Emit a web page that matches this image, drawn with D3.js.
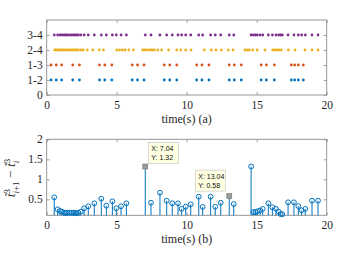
<!DOCTYPE html>
<html><head><meta charset="utf-8">
<script src="https://cdn.jsdelivr.net/npm/d3@7"></script>
<style>body{margin:0;background:#fff}svg{display:block}</style>
</head><body>
<script>
// ---------- data ----------
const linkLabels = ["0", "1-2", "1-3", "2-4", "3-4"];
const xTicks = [0, 5, 10, 15, 20];
const yTicksBottom = [0.5, 1, 1.5, 2];

const events12 = [0.31,0.68,1.07,1.86,2.34,3.77,4.15,4.65,6.11,6.49,6.95,8.40,8.79,9.29,10.71,11.09,11.59,13.04,13.40,13.90,15.32,15.69,16.26,17.47,17.71,17.97,18.33];
const events13 = [0.31,0.68,1.07,1.86,2.34,3.77,4.15,4.65,6.11,6.49,6.95,8.40,8.79,9.29,10.71,11.09,11.59,13.04,13.40,13.90,15.32,15.69,16.26,17.47,17.71,17.97,18.33];
const events24 = [0.57,0.70,0.83,0.96,1.09,1.22,1.35,1.48,1.61,1.74,1.87,2.0,2.13,2.26,2.43,2.61,2.9,3.29,3.76,4.05,5.0,5.2,5.4,5.6,5.86,6.19,6.86,7.02,7.19,7.36,7.52,7.69,7.93,8.21,8.71,9.29,9.57,9.93,10.31,11.26,11.76,12.09,12.47,12.97,13.31,14.16,14.33,14.47,14.71,15.04,15.59,16.14,16.31,16.45,16.6,16.76,17.26,17.74,18.45,18.95,19.38];
const events34 = [0.54,0.78,0.95,1.09,1.24,1.36,1.47,1.62,1.76,1.9,2.02,2.14,2.26,2.43,2.67,2.97,3.4,3.9,4.26,4.69,4.97,5.31,5.69,7.04,7.45,8.09,8.57,8.97,9.38,9.64,9.93,10.29,10.86,11.14,11.71,12.04,12.43,13.04,13.36,14.6,14.76,14.9,15.04,15.24,15.43,15.83,16.12,16.38,16.57,16.71,16.83,17.24,17.66,17.97,18.21,18.47,18.95,19.38];

const stemTimes = [0.54,0.78,0.95,1.09,1.24,1.36,1.47,1.62,1.76,1.9,2.02,2.14,2.26,2.43,2.67,2.97,3.4,3.9,4.26,4.69,4.97,5.31,5.69,7.04,7.45,8.09,8.57,8.97,9.38,9.64,9.93,10.29,10.86,11.14,11.71,12.04,12.43,13.04,13.36,14.6,14.76,14.9,15.04,15.24,15.43,15.83,16.12,16.38,16.57,16.71,16.83,17.24,17.66,17.97,18.21,18.47,18.95,19.38];
const stemValues = [0.55,0.25,0.21,0.19,0.165,0.16,0.165,0.165,0.165,0.165,0.16,0.155,0.16,0.19,0.275,0.325,0.4,0.515,0.34,0.45,0.275,0.325,0.4,1.32,0.415,0.665,0.465,0.4,0.4,0.26,0.315,0.375,0.565,0.31,0.565,0.315,0.415,0.58,0.38,1.32,0.18,0.18,0.2,0.22,0.26,0.4,0.3,0.26,0.19,0.13,0.125,0.425,0.425,0.33,0.225,0.26,0.465,0.465];

const dataTips = [{x: 7.04, y: 1.32, dx: 3, dy: -24}, {x: 13.04, y: 0.58, dx: -34, dy: -26}];

const rows = [
  {level: 1, events: events12, color: "#0072BD"},
  {level: 2, events: events13, color: "#D95319"},
  {level: 3, events: events24, color: "#EDB120"},
  {level: 4, events: events34, color: "#7E2F8E"}
];

// ---------- layout ----------
const W = 360, H = 254;
const axisColor = "#8c8c8c", textColor = "#262626";
const serif = "'Liberation Serif','DejaVu Serif',serif";
const svg = d3.select("body").append("svg").attr("width", W).attr("height", H);

const x = d3.scaleLinear().domain([0, 20]).range([46.7, 326.7]);
const yTop = d3.scaleLinear().domain([0, 5]).range([95, 20]);
const yBot = d3.scaleLinear().domain([0.1, 2]).range([215.3, 139.3]);

function frame(yScale, yTickVals, yFmt, top, bottom) {
  const g = svg.append("g");
  g.append("g").attr("transform", `translate(0,${bottom})`)
    .call(d3.axisBottom(x).tickValues(xTicks).tickSize(-3).tickPadding(6).tickFormat(d3.format("d")));
  g.append("g").attr("transform", `translate(0,${top})`)
    .call(d3.axisTop(x).tickValues(xTicks).tickSize(-3).tickFormat(""));
  g.append("g").attr("transform", `translate(${x.range()[0]},0)`)
    .call(d3.axisLeft(yScale).tickValues(yTickVals).tickSize(-3).tickPadding(4).tickFormat(yFmt));
  g.append("g").attr("transform", `translate(${x.range()[1]},0)`)
    .call(d3.axisRight(yScale).tickValues(yTickVals).tickSize(-3).tickFormat(""));
  g.selectAll(".domain").remove();
  g.selectAll(".tick line").attr("stroke", axisColor).attr("stroke-width", 0.8);
  g.selectAll(".tick text").attr("fill", textColor).style("font-family", serif).style("font-size", "11.5px");
  g.append("rect").attr("x", x.range()[0]).attr("y", top)
    .attr("width", x.range()[1] - x.range()[0]).attr("height", bottom - top)
    .attr("fill", "none").attr("stroke", axisColor).attr("stroke-width", 0.9);
  return g;
}

// ---------- top chart ----------
frame(yTop, [0, 1, 2, 3, 4], (d) => linkLabels[d], yTop.range()[1], yTop.range()[0]);
rows.forEach(r => {
  svg.append("g").selectAll("circle").data(r.events).join("circle")
    .attr("cx", d => x(d)).attr("cy", yTop(r.level)).attr("r", 1.4)
    .attr("fill", r.color);
});
svg.append("text").attr("x", (x.range()[0] + x.range()[1]) / 2).attr("y", 123)
  .attr("text-anchor", "middle").attr("fill", textColor)
  .style("font-family", serif).style("font-size", "12px").text("time(s)  (a)");

// ---------- bottom chart ----------
frame(yBot, yTicksBottom, (d) => d3.format("")(d), yBot.range()[1], yBot.range()[0]);
const stems = stemTimes.map((t, i) => ({t, v: stemValues[i]}));
const tipKey = new Set(dataTips.map(d => d.x));
const sg = svg.append("g");
sg.selectAll("line").data(stems).join("line")
  .attr("x1", d => x(d.t)).attr("x2", d => x(d.t))
  .attr("y1", yBot.range()[0]).attr("y2", d => yBot(d.v))
  .attr("stroke", "#0072BD").attr("stroke-width", 1);
sg.selectAll("circle").data(stems.filter(d => !tipKey.has(d.t))).join("circle")
  .attr("cx", d => x(d.t)).attr("cy", d => yBot(d.v)).attr("r", 2.4)
  .attr("fill", "none").attr("stroke", "#0072BD").attr("stroke-width", 1);

// data tips
dataTips.forEach(d => {
  const px = x(d.x), py = yBot(d.y);
  svg.append("rect").attr("x", px - 2.5).attr("y", py - 2.5).attr("width", 5).attr("height", 5)
    .attr("fill", "#9a9a9a").attr("stroke", "#7a7a7a").attr("stroke-width", 0.6);
  const bx = px + d.dx, by = py + d.dy;
  svg.append("rect").attr("x", bx).attr("y", by).attr("width", 30).attr("height", 21)
    .attr("fill", "#ffffe1").attr("stroke", "#c8c8c8").attr("stroke-width", 0.7);
  const t = svg.append("text").attr("fill", "#111")
    .style("font-family", "'Liberation Sans',Arial,sans-serif").style("font-size", "7px");
  t.append("tspan").attr("x", bx + 3).attr("y", by + 8.5).text("X: " + d.x.toFixed(2));
  t.append("tspan").attr("x", bx + 3).attr("y", by + 17.5).text("Y: " + d.y.toFixed(2));
});

svg.append("text").attr("x", (x.range()[0] + x.range()[1]) / 2).attr("y", 243)
  .attr("text-anchor", "middle").attr("fill", textColor)
  .style("font-family", serif).style("font-size", "12px").text("time(s)  (b)");

// rotated y label  t̃^3_{i+1} − t̃^3_i
const yl = svg.append("text").attr("transform", "translate(15,178) rotate(-90)")
  .attr("text-anchor", "middle").attr("fill", textColor)
  .style("font-family", serif).style("font-size", "13.5px");
yl.append("tspan").style("font-style", "italic").text("t\u0303");
yl.append("tspan").attr("dy", -5).style("font-size", "9px").text("3");
yl.append("tspan").attr("dx", -4.5).attr("dy", 9).style("font-size", "9px").style("font-style", "italic").text("i");
yl.append("tspan").style("font-size", "9px").text("+1");
yl.append("tspan").attr("dy", -4).text(" \u2212 ");
yl.append("tspan").style("font-style", "italic").text("t\u0303");
yl.append("tspan").attr("dy", -5).style("font-size", "9px").text("3");
yl.append("tspan").attr("dx", -4.5).attr("dy", 9).style("font-size", "9px").style("font-style", "italic").text("i");
</script>
</body></html>
